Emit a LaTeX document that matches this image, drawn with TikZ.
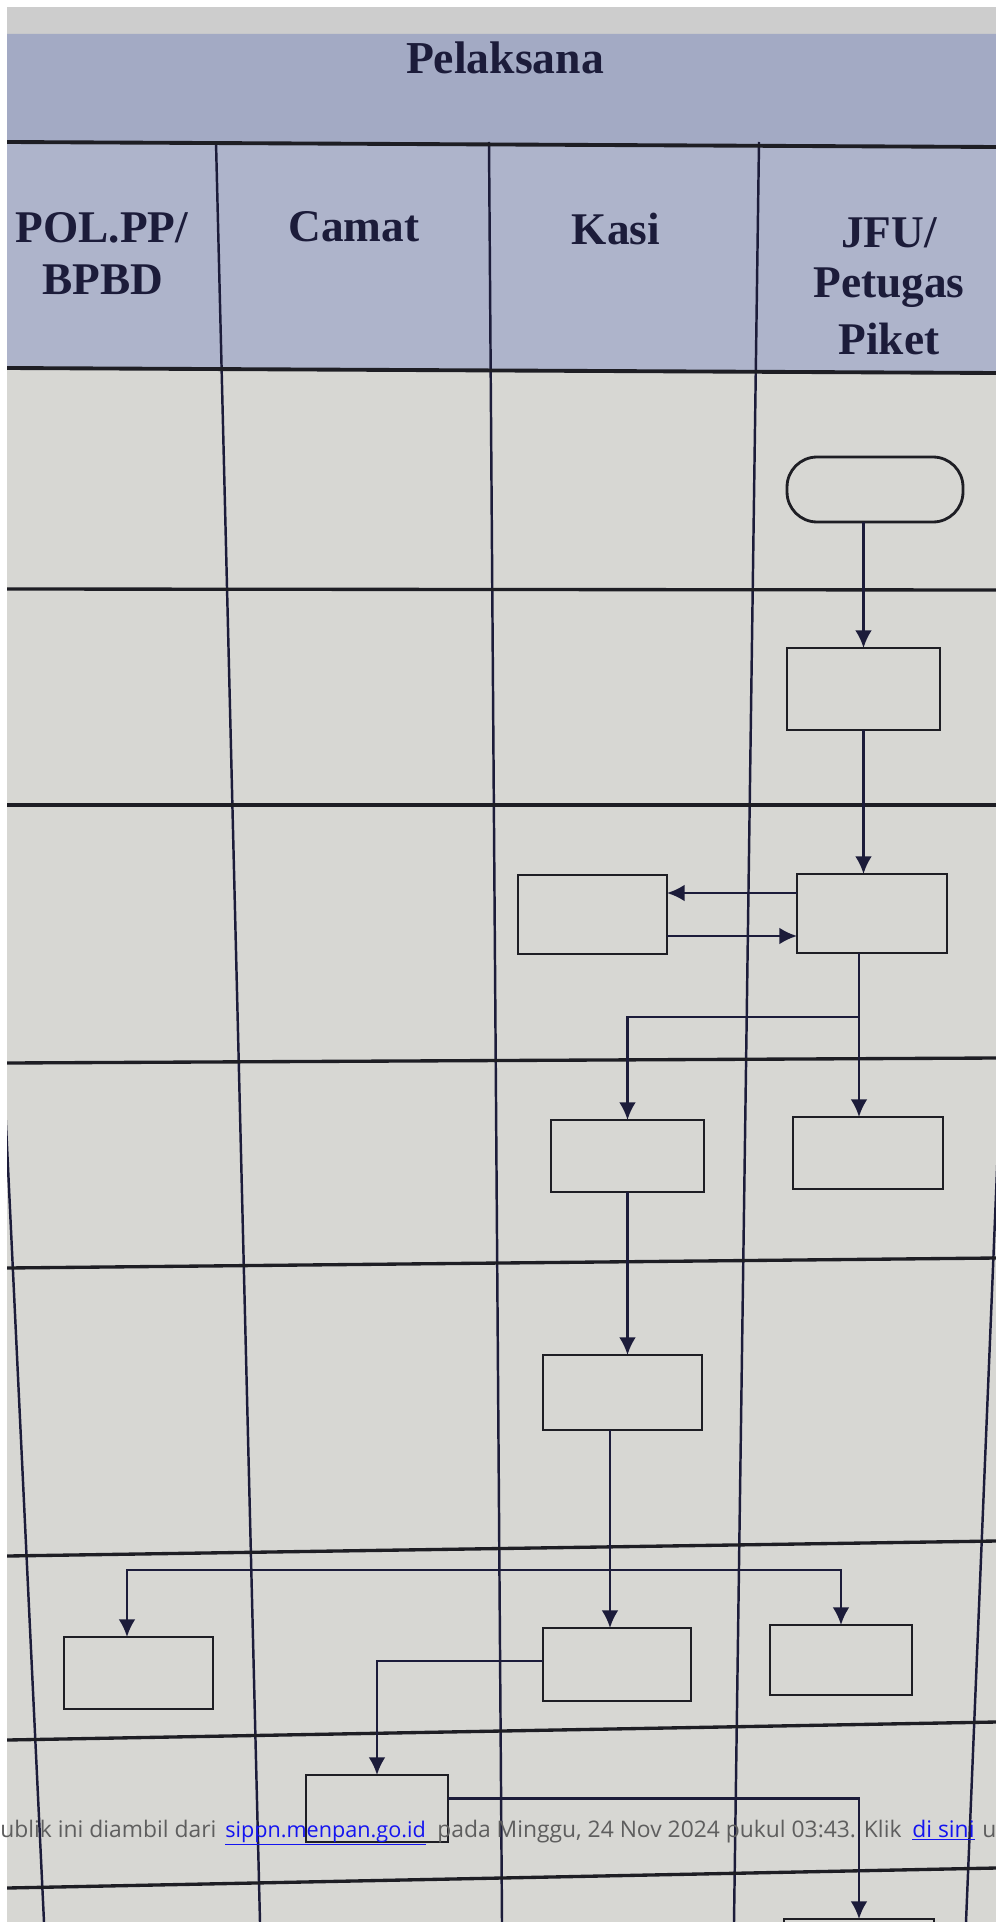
\documentclass[tikz,border=0pt]{standalone}
\usepackage{fontspec}
\setmainfont{Liberation Serif}
\newfontfamily\wmfont{Open Sans}
\usetikzlibrary{arrows.meta}
\definecolor{topgray}{HTML}{CDCDCD}
\definecolor{hdrband}{HTML}{A3AAC4}
\definecolor{colhdr}{HTML}{AEB4CB}
\definecolor{bodygray}{HTML}{D7D7D3}
\definecolor{ink}{HTML}{1E1E24}
\definecolor{navy}{HTML}{1C1C3A}
\definecolor{wmgray}{HTML}{5E5E5E}
\definecolor{wmblue}{HTML}{1414F0}
\begin{document}
\begin{tikzpicture}[x=0.02cm,y=-0.02cm,
  hline/.style={line width=1.9pt, draw=ink},
  vline/.style={line width=1.4pt, draw=navy},
  box/.style={rectangle, draw=ink, line width=1.6pt, inner sep=0pt, outer sep=0pt},
  conn/.style={line width=1.5pt, draw=navy},
  arr/.style={conn, -{Latex[length=10pt,width=9.5pt]}},
  hdrtxt/.style={font=\bfseries\fontsize{25.8}{30}\selectfont, text=navy, inner sep=0pt, anchor=base},
  wm/.style={font=\wmfont\fontsize{13}{15}\selectfont, text=wmgray, inner sep=0pt, anchor=base west},
  wmlink/.style={wm, text=wmblue}]
\useasboundingbox (0,0) rectangle (996,1922);
\fill[white] (0,0) rectangle (996,1922);
\begin{scope}
\clip (7,7) rectangle (996,1922);
% backgrounds
\fill[topgray] (7,7) rectangle (996,34);
\fill[hdrband] (7,34) -- (996,34) -- (996,147) -- (7,142) -- cycle;
\fill[colhdr] (7,142) -- (996,147) -- (996,373) -- (7,368) -- cycle;
\fill[bodygray] (7,368) -- (996,373) -- (996,1922) -- (7,1922) -- cycle;
% vertical lines
\draw[vline] (216,142) -- (260,1922);
\draw[vline] (489,142) -- (502,1922);
\draw[vline] (759,142) -- (734,1922);
\draw[vline] (-30,370) -- (44,1922);
\draw[vline] (1030,370) -- (966,1922);
% horizontal lines
\draw[hline, line width=2.2pt] (7,142) -- (996,147);
\draw[hline, line width=2.2pt] (7,368) -- (996,373);
\draw[hline] (7,589) -- (996,590);
\draw[hline] (7,805) -- (996,805);
\draw[hline] (7,1063) -- (996,1058);
\draw[hline] (7,1268) -- (996,1258);
\draw[hline] (7,1556) -- (996,1541);
\draw[hline] (7,1740) -- (996,1722);
\draw[hline] (7,1888) -- (996,1868);
% header texts
\node[hdrtxt, font=\bfseries\fontsize{26}{30}\selectfont] (tpel) at (505,74) {Pelaksana};
\node[hdrtxt] (tpol) at (102,243) {POL.PP/};
\node[hdrtxt] (tbpbd) at (103,295) {BPBD};
\node[hdrtxt] (tcamat) at (354,242) {Camat};
\node[hdrtxt] (tkasi) at (616,245) {Kasi};
\node[hdrtxt] (tjfu) at (889,248) {JFU/};
\node[hdrtxt] (tpet) at (889,298) {Petugas};
\node[hdrtxt] (tpik) at (889,355) {Piket};
% nodes
\node[box, rounded corners=0.6cm, minimum width=3.52cm, minimum height=1.30cm] (start) at (875,489.5) {};
\node[box, minimum width=3.06cm, minimum height=1.64cm] (b1) at (863.5,689) {};
\node[box, minimum width=3.00cm, minimum height=1.58cm] (b2) at (872,913.5) {};
\node[box, minimum width=2.98cm, minimum height=1.58cm] (k1) at (592.5,914.5) {};
\node[box, minimum width=3.06cm, minimum height=1.44cm] (k2) at (627.5,1156) {};
\node[box, minimum width=3.00cm, minimum height=1.44cm] (j3) at (868,1153) {};
\node[box, minimum width=3.18cm, minimum height=1.50cm] (k3) at (622.5,1392.5) {};
\node[box, minimum width=2.98cm, minimum height=1.44cm] (p1) at (138.5,1673) {};
\node[box, minimum width=2.96cm, minimum height=1.46cm] (k4) at (617,1664.5) {};
\node[box, minimum width=2.84cm, minimum height=1.40cm] (j4) at (841,1660) {};
\node[box, minimum width=2.84cm, minimum height=1.34cm] (c1) at (377,1808.5) {};
\node[box, minimum width=3.00cm, minimum height=1.60cm] (bb) at (859,1959) {};
% connectors
\draw[arr] (b1.north |- start.south) -- (b1.north);
\draw[arr] (b1.south) -- (b1.south |- b2.north);
\draw[arr] ([yshift=0.41cm]b2.west) -- ([yshift=0.41cm]b2.west -| k1.east);
\draw[arr] ([yshift=-0.43cm]k1.east) -- ([yshift=-0.43cm]k1.east -| b2.west);
\coordinate (jn) at (859,1017);
\draw[conn] (b2.south -| jn) -- (jn);
\draw[arr] (jn) -- (jn |- j3.north);
\draw[arr] (jn) -| (k2.north);
\draw[arr] (k2.south) -- (k2.south |- k3.north);
\coordinate (kx) at (610,1570);
\coordinate (px) at (127,1570);
\draw[conn] (k3.south -| kx) -- (kx);
\draw[arr] (kx) -- (kx |- k4.north);
\draw[arr] (kx) -| (j4.north);
\draw[arr] (kx) -- (px) -- (px |- p1.north);
\draw[arr] ([yshift=0.07cm]k4.west) -| (c1.north);
\draw[arr] ([yshift=0.2cm]c1.east) -| (bb.north);
\end{scope}
% watermark overlay
\node[wm] (w1) at (0,1837) {ublik ini diambil dari};
\node[wmlink, font=\wmfont\fontsize{12.3}{15}\selectfont] (w2) at (225,1837) {\underline{sippn.menpan.go.id}};
\node[wm] (w3) at (437,1837) {pada Minggu, 24 Nov 2024 pukul 03:43. Klik};
\node[wmlink] (w4) at (912,1837) {\underline{di sini}};
\node[wm] (w5) at (982,1837) {u};
\end{tikzpicture}
\end{document}
